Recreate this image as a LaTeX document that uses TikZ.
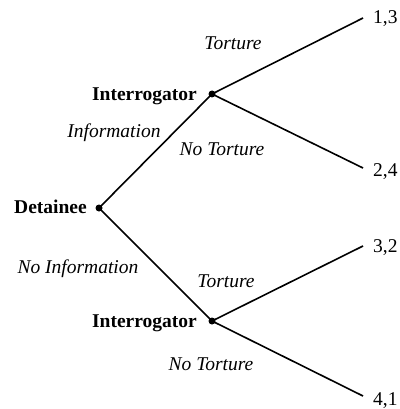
\documentclass[tikz,border=0pt]{standalone}
\usepackage{fontspec}
\setmainfont{Liberation Serif}
\begin{document}
\begin{tikzpicture}[x=1pt,y=-1pt,
  txt/.style={font=\fontsize{19.5}{22}\selectfont, inner sep=0},
  player/.style={txt, font=\fontsize{19.5}{22}\selectfont\bfseries, anchor=base east},
  act/.style={txt, font=\fontsize{19.5}{22}\selectfont\itshape, anchor=base},
  payoff/.style={txt, anchor=base west},
  dot/.style={circle, fill=black, inner sep=0, minimum size=7pt},
  edge/.style={line width=1.6pt}]
\useasboundingbox (0,0) rectangle (399,409);
% decision nodes
\node[dot] (D) at (99,208) {};
\node[dot] (I1) at (212,94) {};
\node[dot] (I2) at (212,321) {};
% terminal points
\coordinate (L1) at (363,18);
\coordinate (L2) at (363,168);
\coordinate (L3) at (363,246);
\coordinate (L4) at (363,396);
% edges
\draw[edge] (D.center) -- (I1.center);
\draw[edge] (D.center) -- (I2.center);
\draw[edge] (I1.center) -- (L1);
\draw[edge] (I1.center) -- (L2);
\draw[edge] (I2.center) -- (L3);
\draw[edge] (I2.center) -- (L4);
% player labels
\node[player] (tD) at (87,213) {Detainee};
\node[player] (tI1) at (197,100) {Interrogator};
\node[player] (tI2) at (197,327) {Interrogator};
% action labels
\node[act] (aInf) at (114,137) {Information};
\node[act] (aNoInf) at (78,273) {No Information};
\node[act] (aT1) at (233,50) {Torture};
\node[act] (aNT1) at (222,155) {No Torture};
\node[act] (aT2) at (226,287) {Torture};
\node[act] (aNT2) at (211,370) {No Torture};
% payoffs
\node[payoff] (p1) at (373,24) {1,3};
\node[payoff] (p2) at (373,176) {2,4};
\node[payoff] (p3) at (373,252) {3,2};
\node[payoff] (p4) at (373,405) {4,1};
\end{tikzpicture}
\end{document}
